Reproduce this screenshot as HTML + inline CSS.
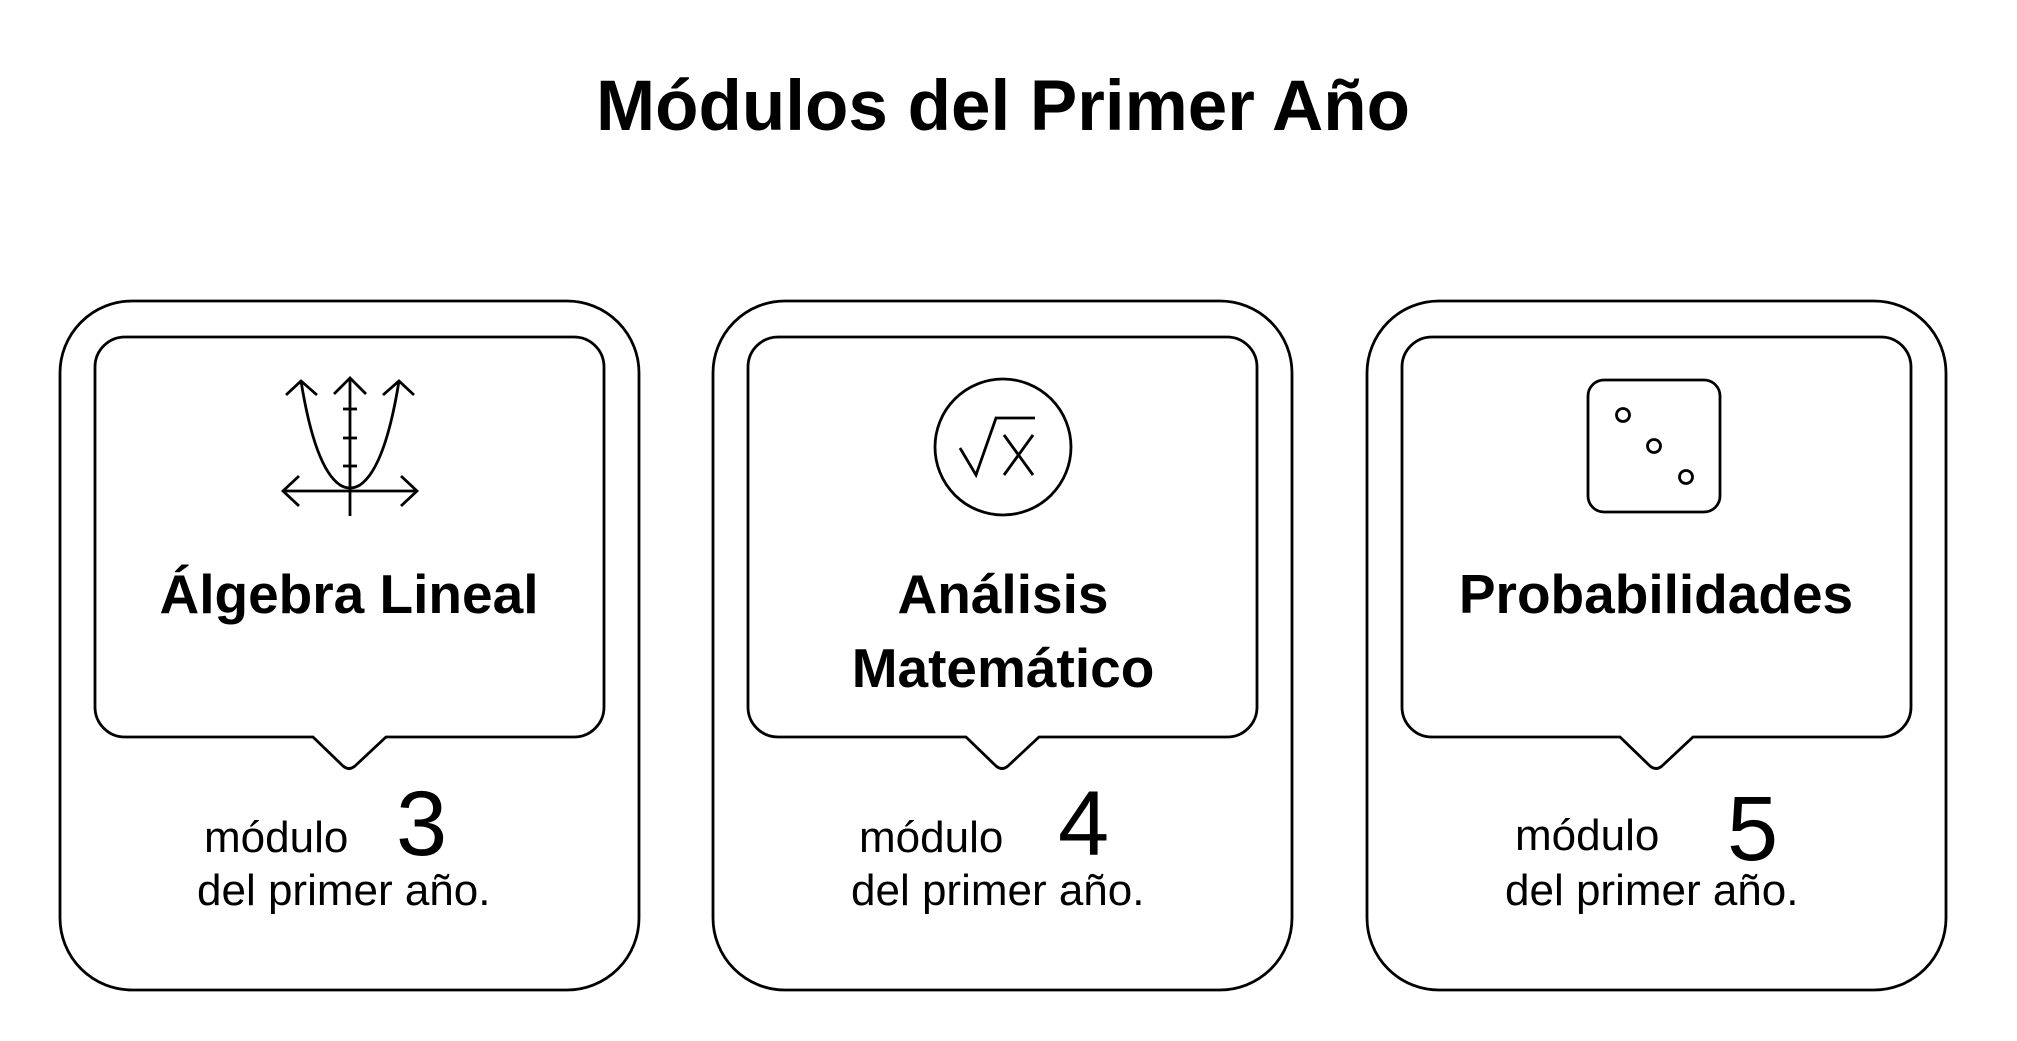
<!DOCTYPE html>
<html><head><meta charset="utf-8"><style>
html,body{margin:0;padding:0;background:#fff;width:2017px;height:1041px;overflow:hidden}
svg{position:absolute;left:0;top:0}
.t{font-family:"Liberation Sans",sans-serif;fill:#000}
</style></head><body>
<svg width="2017" height="1041" viewBox="0 0 2017 1041">
<defs>
<g id="card" fill="none" stroke="#000" stroke-width="2.8">
<rect x="60" y="301" width="579" height="689" rx="72"/>
<path d="M125,337 H574 A30,30 0 0 1 604,367 V707 A30,30 0 0 1 574,737 H386 L355,766 Q349,771 343,766 L313,737 H125 A30,30 0 0 1 95,707 V367 A30,30 0 0 1 125,337 Z"/>
</g>
</defs>
<use href="#card"/>
<use href="#card" x="653"/>
<use href="#card" x="1307"/>

<text class="t" x="1003" y="130" font-size="71" font-weight="bold" text-anchor="middle">Módulos del Primer Año</text>

<g fill="none" stroke="#000" stroke-width="2.8">
<line x1="350" y1="378" x2="350" y2="516"/>
<polyline points="334,394 350,378 366,394"/>
<line x1="343" y1="409" x2="357" y2="409"/>
<line x1="343" y1="438" x2="357" y2="438"/>
<line x1="343" y1="466" x2="357" y2="466"/>
<line x1="283" y1="491" x2="417" y2="491"/>
<polyline points="299,476 283,491 299,506"/>
<polyline points="401,476 417,491 401,506"/>
<path d="M301,381 Q315,468 340,485 Q350,491 360,485 Q385,468 399,381"/>
<polyline points="286,395 301,381 317,395"/>
<polyline points="383,395 399,381 414,395"/>
</g>
<g fill="none" stroke="#000" stroke-width="2.8">
<circle cx="1003" cy="447" r="68"/>
<polyline points="960,448 976,475 996,418 1035,418"/>
<line x1="1004" y1="435" x2="1033" y2="475"/>
<line x1="1033" y1="435" x2="1004" y2="475"/>
</g>
<g fill="none" stroke="#000" stroke-width="2.8">
<rect x="1588" y="380" width="132" height="132" rx="16"/>
<circle cx="1623" cy="415" r="6.5"/>
<circle cx="1654" cy="446" r="6.5"/>
<circle cx="1686" cy="477" r="6.5"/>
</g>

<g class="t" font-weight="bold" font-size="55" text-anchor="middle">
<text x="349" y="613">Álgebra Lineal</text>
<text x="1003" y="613">Análisis</text>
<text x="1003" y="687">Matemático</text>
<text x="1656" y="613">Probabilidades</text>
</g>

<g class="t" font-size="44">
<text x="204" y="852">módulo</text>
<text x="396" y="855" font-size="92">3</text>
<text x="197" y="905">del primer año.</text>
<text x="859" y="852">módulo</text>
<text x="1058" y="855" font-size="92">4</text>
<text x="851" y="905">del primer año.</text>
<text x="1515" y="850">módulo</text>
<text x="1727" y="860" font-size="92">5</text>
<text x="1505" y="905">del primer año.</text>
</g>
</svg>
</body></html>
